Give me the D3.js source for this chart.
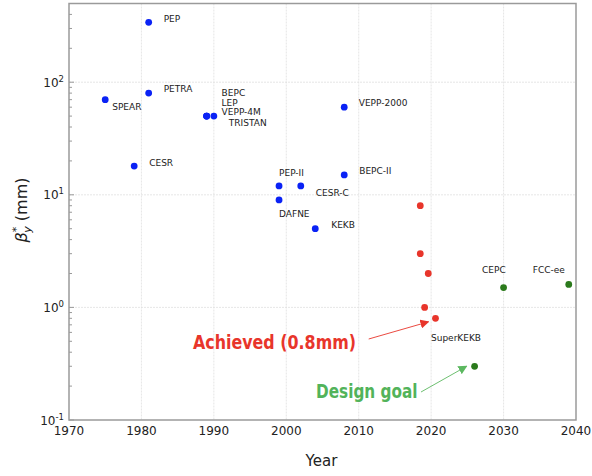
<!DOCTYPE html>
<html>
<head>
<meta charset="utf-8">
<script src="https://cdn.jsdelivr.net/npm/d3@7"></script>
<style>
  body { margin: 0; background: #fff; }
  text { font-family: "DejaVu Sans", sans-serif; }
</style>
</head>
<body>
<script>
// colliders: name, year, beta_y* (mm), group
const names  = ['PEP', 'PETRA', 'SPEAR', 'CESR', 'BEPC', 'LEP', 'VEPP-4M', 'TRISTAN',
                'PEP-II', 'DAFNE', 'CESR-C', 'KEKB', 'VEPP-2000', 'BEPC-II',
                'CEPC', 'FCC-ee']
const years  = [1981, 1981, 1975, 1979, 1989, 1989, 1989, 1990,
                1999, 1999, 2002, 2004, 2008, 2008,
                2030, 2039]
const betas  = [340, 80, 70, 18, 50, 50, 50, 50,
                12, 9, 12, 5, 60, 15,
                1.5, 1.6]
const groups = ['past', 'past', 'past', 'past', 'past', 'past', 'past', 'past',
                'past', 'past', 'past', 'past', 'past', 'past',
                'future', 'future']

// SuperKEKB achieved steps and design goal
const skbYears = [2018.5, 2018.5, 2019.6, 2019.1, 2020.6]
const skbBetas = [8, 3, 2, 1, 0.8]
const goalYear = 2026
const goalBeta = 0.3

const xTicks = [1970, 1980, 1990, 2000, 2010, 2020, 2030, 2040]
const yTicks = [0.1, 1, 10, 100]

// label offsets in px from each point (layout only)
const labelOffset = {
  'PEP': [15, -4], 'PETRA': [15, -4], 'SPEAR': [7, 7], 'CESR': [15, -3],
  'BEPC': [15, -23], 'LEP': [15, -13], 'VEPP-4M': [15, -4.5], 'TRISTAN': [15, 7],
  'PEP-II': [0, -13], 'DAFNE': [0, 13.5], 'CESR-C': [15, 7], 'KEKB': [16, -4],
  'VEPP-2000': [14.5, -4], 'BEPC-II': [15, -4], 'CEPC': [-21.5, -18], 'FCC-ee': [-36, -15]
}

const W = 592, H = 476
const margin = {left: 69, right: 16, top: 3.5, bottom: 56}

const svg = d3.select('body').append('svg')
  .attr('width', W).attr('height', H)

const x = d3.scaleLinear().domain([1970, 2040]).range([margin.left, W - margin.right])
const y = d3.scaleLog().domain([0.1, 500]).range([H - margin.bottom, margin.top])

// grid
svg.append('g').selectAll('line').data(xTicks.slice(1, -1)).join('line')
  .attr('x1', d => x(d)).attr('x2', d => x(d))
  .attr('y1', y(500)).attr('y2', y(0.1))
  .attr('stroke', '#e0e0e0').attr('stroke-width', 0.8).attr('stroke-dasharray', '2,1')
svg.append('g').selectAll('line').data(yTicks.slice(1)).join('line')
  .attr('x1', x(1970)).attr('x2', x(2040))
  .attr('y1', d => y(d)).attr('y2', d => y(d))
  .attr('stroke', '#e0e0e0').attr('stroke-width', 0.8).attr('stroke-dasharray', '2,1')

// frame
svg.append('rect')
  .attr('x', x(1970)).attr('y', y(500))
  .attr('width', x(2040) - x(1970)).attr('height', y(0.1) - y(500))
  .attr('fill', 'none').attr('stroke', '#9a9a9a').attr('stroke-width', 1.5)

// y minor/major ticks (inward)
const minor = []
for (let e = -1; e <= 2; e++) for (let m = 2; m <= 9; m++) {
  const v = m * Math.pow(10, e)
  if (v <= 500) minor.push(v)
}
svg.append('g').selectAll('line').data(minor).join('line')
  .attr('x1', x(1970)).attr('x2', x(1970) + 3)
  .attr('y1', d => y(d)).attr('y2', d => y(d))
  .attr('stroke', '#9a9a9a').attr('stroke-width', 1)
svg.append('g').selectAll('line').data(yTicks).join('line')
  .attr('x1', x(1970)).attr('x2', x(1970) + 5)
  .attr('y1', d => y(d)).attr('y2', d => y(d))
  .attr('stroke', '#9a9a9a').attr('stroke-width', 1)

// tick labels
svg.append('g').selectAll('text').data(xTicks).join('text')
  .attr('x', d => x(d)).attr('y', y(0.1) + 15)
  .attr('text-anchor', 'middle').attr('font-size', 12).attr('fill', '#222')
  .text(d => d)
const yl = svg.append('g').selectAll('text').data(yTicks).join('text')
  .attr('x', x(1970) - 5).attr('y', d => y(d) + 4.5)
  .attr('text-anchor', 'end').attr('font-size', 12).attr('fill', '#222')
yl.append('tspan').text('10')
yl.append('tspan').attr('dy', -5).attr('font-size', 8.5).text(d => Math.round(Math.log10(d)))

// axis titles
svg.append('text').attr('x', x(2005) - 1).attr('y', 466)
  .attr('text-anchor', 'middle').attr('font-size', 15).attr('fill', '#222').text('Year')
const yt = svg.append('text')
  .attr('transform', 'translate(27,210) rotate(-90)')
  .attr('text-anchor', 'middle').attr('font-size', 16).attr('fill', '#222')
yt.append('tspan').attr('font-style', 'italic').text('β')
yt.append('tspan').attr('font-size', 11).attr('dy', -7).text('*')
yt.append('tspan').attr('font-size', 11).attr('font-style', 'italic').attr('dx', -6).attr('dy', 11).text('y')
yt.append('tspan').attr('dy', -4).text(' (mm)')

// points
const pts = names.map((n, i) => ({name: n, year: years[i], beta: betas[i], group: groups[i]}))
const colour = {past: '#0a22f5', future: '#2b7a1c'}

svg.append('g').selectAll('circle').data(pts).join('circle')
  .attr('cx', d => x(d.year)).attr('cy', d => y(d.beta)).attr('r', 3.4)
  .attr('fill', d => colour[d.group])
svg.append('g').selectAll('circle').data(skbYears).join('circle')
  .attr('cx', d => x(d)).attr('cy', (d, i) => y(skbBetas[i])).attr('r', 3.4)
  .attr('fill', '#e8352b')
svg.append('circle').attr('cx', x(goalYear)).attr('cy', y(goalBeta)).attr('r', 3.4)
  .attr('fill', colour.future)

svg.append('g').selectAll('text').data(pts).join('text')
  .attr('x', d => x(d.year) + labelOffset[d.name][0])
  .attr('y', d => y(d.beta) + labelOffset[d.name][1] + 3.3)
  .attr('font-size', 9).attr('fill', '#222')
  .text(d => d.name)
svg.append('text')
  .attr('x', x(skbYears[4]) - 4.5).attr('y', y(skbBetas[4]) + 22.5)
  .attr('font-size', 9).attr('fill', '#222').text('SuperKEKB')

// annotations
const defs = svg.append('defs')
function head(id, c) {
  defs.append('marker').attr('id', id).attr('viewBox', '0 0 10 10')
    .attr('refX', 9).attr('refY', 5).attr('markerWidth', 9).attr('markerHeight', 9)
    .attr('markerUnits', 'userSpaceOnUse').attr('orient', 'auto')
    .append('path').attr('d', 'M0,0 L10,5 L0,10 Z').attr('fill', c)
}
head('ar', '#e8352b')
head('ag', '#5cb860')

svg.append('line')
  .attr('x1', 368.7).attr('y1', 339).attr('x2', x(skbYears[4]) - 7).attr('y2', y(skbBetas[4]) + 3.5)
  .attr('stroke', '#e8352b').attr('stroke-width', 0.9).attr('marker-end', 'url(#ar)')
svg.append('line')
  .attr('x1', 421).attr('y1', 392).attr('x2', x(goalYear) - 8).attr('y2', y(goalBeta))
  .attr('stroke', '#5cb860').attr('stroke-width', 0.9).attr('marker-end', 'url(#ag)')

svg.append('text').attr('x', 193).attr('y', 348.5)
  .attr('font-family', 'Lato, "Open Sans", sans-serif').attr('font-weight', 'bold')
  .attr('font-size', 19.5).attr('fill', '#e8352b')
  .attr('textLength', 163).attr('lengthAdjust', 'spacingAndGlyphs')
  .text('Achieved (0.8mm)')
svg.append('text').attr('x', 316).attr('y', 397.5)
  .attr('font-family', 'Lato, "Open Sans", sans-serif').attr('font-weight', 'bold')
  .attr('font-size', 19.5).attr('fill', '#52b35a')
  .attr('textLength', 101.5).attr('lengthAdjust', 'spacingAndGlyphs')
  .text('Design goal')
</script>
</body>
</html>
